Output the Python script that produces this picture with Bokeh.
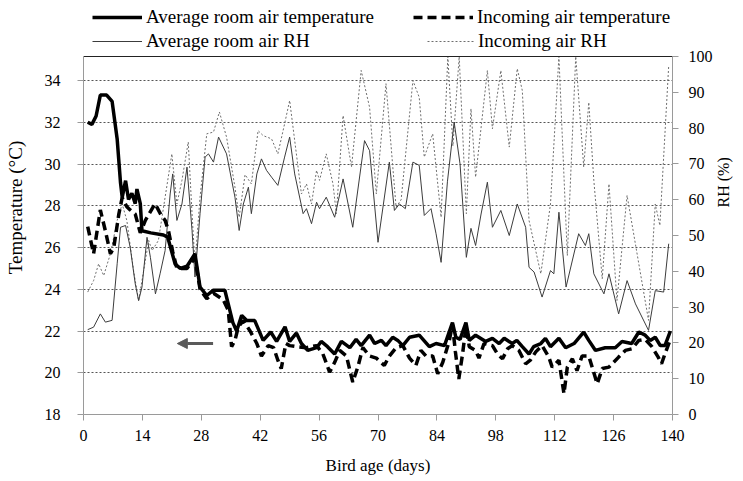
import math
from bokeh.plotting import figure
from bokeh.models import (Range1d, LinearAxis, FixedTicker, Legend, LegendItem,
                          Arrow, NormalHead, Span)
from bokeh.embed import file_html
from bokeh.resources import INLINE

FONT = "Liberation Serif"

# ---------------- data ----------------
room_t_day = [1, 2, 3, 4, 5.5, 6.8, 8, 8.8, 9.2, 10, 10.7, 11.5, 12.3, 12.7, 13.5, 13.9, 16, 19, 20,
              21.8, 23, 24.6, 26.5, 27.7, 29.3, 30.8, 33.6, 34.4, 35.5, 36.4, 37.6, 38.8, 40.7, 42.7,
              44.5, 45.9, 47.9, 49, 50.6, 51.8, 53.3, 55.4, 56.5, 58, 59.7, 61.3, 63.3, 64.8, 66, 68,
              69.2, 70.8, 71.9, 73.5, 74.7, 75.9, 77.5, 79.8, 82.2, 83.8, 85.8, 87.7, 88.5, 89.5, 90.9,
              91.7, 93.2, 95.6, 97.2, 98.8, 100, 101.9, 103, 104.3, 105.9, 107, 108.7, 109.8, 111, 113,
              114.6, 116.6, 118.9, 120.1, 121.7, 124, 126.4, 128, 130.3, 132, 133.5, 134.7, 135.9,
              137.1, 138.2, 139.5]
room_t = [32.0, 31.9, 32.3, 33.3, 33.3, 33.0, 31.2, 29.1, 28.4, 29.2, 28.3, 28.6, 28.1, 28.8, 28.1,
          26.8, 26.7, 26.6, 26.5, 25.2, 25.0, 25.1, 25.7, 24.1, 23.7, 23.95, 23.95, 23.3, 22.4, 22.0,
          22.75, 22.5, 22.5, 21.55, 21.95, 21.5, 22.2, 21.5, 21.9, 21.4, 21.07, 21.2, 21.5, 21.25,
          20.9, 21.5, 21.2, 21.6, 21.3, 21.8, 21.4, 21.55, 21.3, 21.7, 21.55, 21.3, 21.7, 21.8, 21.25,
          21.4, 21.3, 22.4, 21.7, 21.6, 22.4, 21.55, 21.8, 21.5, 21.65, 21.4, 21.65, 21.4, 21.55,
          21.25, 20.9, 21.25, 21.4, 21.65, 21.25, 21.65, 21.2, 21.4, 21.95, 21.55, 21.07, 21.2, 21.2,
          21.5, 21.4, 21.95, 21.8, 21.55, 21.7, 21.3, 21.3, 22.0]

inc_t_day = [1, 2.4, 4, 5.2, 6.4, 7.2, 8.4, 9.2, 10.3, 11.1, 12.3, 13.5, 14.7, 17, 18.6, 19.4, 20.2,
             21.2, 22.2, 24.6, 26.5, 27.7, 29.3, 31, 33.2, 34.4, 35.2, 36, 36.8, 38, 39.6, 41.2, 42.3,
             43.9, 45.2, 46.2, 47, 48.1, 49, 50.6, 53, 55.4, 56.9, 58.5, 59.7, 60.9, 62.5, 64, 65.2,
             66.4, 68, 69.6, 71.5, 72.7, 74.3, 75.9, 77.5, 79, 80.2, 81.4, 83, 84.2, 85.4, 86.9, 87.7,
             88.4, 89.2, 90.1, 90.9, 91.7, 93.2, 94, 95.2, 97.2, 98.4, 99.6, 100.8, 101.9, 103.5,
             105.1, 106.2, 107.5, 109, 110.6, 111.4, 113, 114.2, 115, 116.2, 117.3, 118.5, 120.1,
             122.1, 123.3, 124.9, 127.2, 128.8, 130.4, 132, 133.5, 135.1, 136.6, 137.4, 138.2, 139.5]
inc_t = [27.0, 25.7, 27.8, 26.8, 25.7, 26.0, 27.6, 28.4, 27.95, 27.8, 27.6, 26.7, 27.3, 28.1, 27.5,
         27.3, 26.8, 25.8, 25.0, 25.0, 25.5, 24.0, 23.55, 23.8, 23.5, 23.0, 21.25, 21.55, 22.2, 22.5,
         22.0, 21.4, 20.8, 21.3, 21.2, 20.6, 20.2, 21.4, 21.3, 21.25, 21.2, 21.3, 20.9, 20.03, 20.5,
         21.07, 20.8, 19.55, 20.27, 21.2, 20.8, 20.7, 20.35, 20.8, 21.2, 21.3, 20.7, 20.35, 21.07,
         20.8, 20.8, 19.95, 20.5, 21.5, 22.3, 21.0, 19.7, 20.9, 22.2, 21.25, 21.07, 20.7, 21.4, 21.3,
         20.9, 20.67, 21.15, 21.3, 21.07, 20.43, 20.6, 21.0, 21.3, 20.75, 20.27, 20.6, 19.0, 20.27,
         20.67, 20.1, 20.8, 20.8, 19.47, 20.2, 20.27, 20.75, 21.07, 21.15, 21.55, 21.6, 21.25, 20.75,
         20.43, 20.9, 21.6]

room_rh_day = [1, 2.4, 4, 5.2, 6.8, 8, 8.8, 10, 11.1, 12.3, 13.1, 13.9, 15.1, 15.9, 17.1, 18.2, 19.4,
               20.6, 21.2, 22.2, 23.4, 24.6, 25.8, 26.5, 27.7, 28.9, 29.7, 30.9, 32.1, 34, 36, 37, 38,
               39.2, 39.9, 41.2, 42.3, 43.5, 44.7, 46.2, 47.8, 49, 50.2, 52.2, 53, 54.2, 55.4, 56.1,
               57.7, 59.7, 61.7, 64, 66.8, 68, 70, 72.7, 73.9, 75.1, 76.5, 78.3, 79.8, 81, 82.6, 83.8,
               85, 86.5, 88.1, 89.5, 91, 92.1, 93.2, 94.5, 96, 97.2, 99.2, 101.2, 103.1, 105.1, 105.9,
               107.1, 109, 111, 111.8, 113, 114.7, 117.7, 119.3, 120.1, 121.3, 123.7, 124.9, 127.2,
               129.2, 131.2, 134.3, 135.9, 137.9, 139.1]
room_rh = [23.7, 24.4, 28.1, 25.8, 26.3, 42.1, 52.3, 52.8, 46.7, 36.5, 31.8, 35.6, 49.5, 43.9, 33.7,
           39.3, 45.8, 61.6, 67.2, 54.2, 58.8, 69.1, 51.4, 38.4, 56.1, 71.9, 72.8, 70.5, 77.5, 72.8,
           60.7, 51.4, 58.8, 63.5, 56.1, 67.2, 71.4, 68.2, 66.3, 64.0, 71.9, 77.5, 67.2, 56.1, 57.5,
           53.3, 59.3, 57.5, 60.7, 55.1, 65.8, 52.3, 76.5, 73.7, 48.1, 70.5, 57.0, 58.8, 57.5, 70.5,
           69.6, 55.6, 57.5, 50.5, 42.5, 65.0, 81.7, 70.0, 43.9, 52.0, 47.2, 56.0, 64.9, 52.3, 57.0,
           50.0, 58.8, 52.3, 41.1, 39.8, 32.8, 40.2, 39.3, 56.5, 35.6, 50.5, 47.2, 50.5, 39.3, 33.7,
           39.3, 28.1, 37.4, 30.9, 23.5, 34.6, 34.2, 47.7]

inc_rh_day = [1, 2.4, 3.6, 4.8, 6.4, 8, 9.2, 10.3, 11.9, 13.1, 14.3, 15.5, 16.3, 17.8, 19.4, 21,
              22.2, 23.4, 24.9, 25.8, 26.5, 27.7, 29.3, 30.9, 32.3, 34, 36, 37, 38.4, 39.9, 41.5,
              42.7, 44.7, 46.2, 47.8, 49, 50.2, 51.8, 53, 54.2, 55.4, 56.1, 57.7, 59.3, 60.1, 61.7,
              63.7, 66, 68, 69.6, 71.9, 74.3, 75.5, 78.3, 79.8, 81, 83, 85, 86.6, 87.8, 89.3, 91,
              92.1, 93.2, 96, 97.2, 99.2, 101.2, 103.1, 104.3, 105.9, 108.7, 111, 113, 115, 117,
              118.9, 120.1, 121.3, 123.3, 124.9, 126.8, 129.2, 134.3, 135.9, 137, 139.1]
inc_rh = [34.2, 37.4, 42.1, 38.8, 44.9, 54.2, 58.8, 54.2, 40.2, 31.8, 40.2, 48.6, 45.8, 48.6, 60.7,
          72.8, 58.8, 65.4, 76.1, 56.1, 42.1, 60.7, 78.4, 78.9, 84.5, 77.5, 63.5, 55.1, 67.0, 64.4,
          79.3, 77.9, 77.0, 72.8, 81.2, 87.7, 76.5, 61.6, 64.4, 58.8, 68.2, 65.4, 72.8, 64.4, 56.1,
          83.5, 69.1, 96.1, 85.8, 61.6, 92.4, 57.9, 60.0, 93.3, 88.6, 71.9, 78.4, 55.1, 100, 75.0,
          100, 56.1, 85.4, 66.3, 96.1, 79.8, 96.1, 74.7, 96.6, 90.5, 54.2, 39.3, 58.8, 100, 44.4,
          100, 69.1, 87.2, 65.4, 37.9, 64.4, 31.8, 61.2, 26.3, 58.8, 52.8, 97.5]

x_ticks = [0, 14, 28, 42, 56, 70, 84, 98, 112, 126, 140]
t_ticks = [18, 20, 22, 24, 26, 28, 30, 32, 34]
rh_ticks = [0, 10, 20, 30, 40, 50, 60, 70, 80, 90, 100]

series_labels = ["Average room air temperature", "Incoming air temperature",
                 "Average room air RH", "Incoming air RH"]

# ---------------- layout constants ----------------
W, H = 743, 481
FRAME_L, FRAME_R, CHART_TOP, CHART_BOTTOM = 83, 674, 56, 414   # pixel geometry
T_MIN, T_MAX = 18, 35.15          # temperature axis extent of the chart box
RH_MIN, RH_MAX = 0, 100
X_MIN, X_MAX = 0, 140
px_per_deg = (CHART_BOTTOM - CHART_TOP) / (T_MAX - T_MIN)
px_per_rh = (CHART_BOTTOM - CHART_TOP) / (RH_MAX - RH_MIN)
# frame reaches the top of the canvas so the legend can sit inside it
T_TOP = T_MIN + CHART_BOTTOM / px_per_deg
RH_TOP = RH_MIN + CHART_BOTTOM / px_per_rh

# ---------------- styles ----------------
STYLES = [
    dict(line_color="black", line_width=3.5),
    dict(line_color="black", line_width=3.5, line_dash="9 5"),
    dict(line_color="#3c3c3c", line_width=1),
    dict(line_color="#6e6e6e", line_width=1, line_dash="2 2"),
]

p = figure(width=W, height=H, output_backend="svg", toolbar_location=None,
           x_range=Range1d(X_MIN, X_MAX), y_range=Range1d(T_MIN, T_TOP),
           min_border_left=FRAME_L, min_border_right=W - FRAME_R, min_border_top=0,
           min_border_bottom=H - CHART_BOTTOM,
           background_fill_color="white", border_fill_color="white")
p.extra_y_ranges = {"rh": Range1d(RH_MIN, RH_TOP)}
p.outline_line_color = None

AX_COL = "#9a9a9a"

def style_axis(ax, title_size="16px"):
    ax.axis_line_color = AX_COL
    ax.major_tick_line_color = AX_COL
    ax.minor_tick_line_color = None
    ax.major_tick_in = 0
    ax.major_tick_out = 6
    ax.major_label_text_font = FONT
    ax.major_label_text_font_size = "16px"
    ax.major_label_text_color = "black"
    ax.axis_label_text_font = FONT
    ax.axis_label_text_font_size = title_size
    ax.axis_label_text_font_style = "normal"
    ax.axis_label_text_color = "black"

xa = p.xaxis[0]
xa.ticker = FixedTicker(ticks=x_ticks)
xa.axis_label = "Bird age (days)"
style_axis(xa, "17px")
xa.major_label_standoff = 9
xa.axis_label_standoff = 12

ya = p.yaxis[0]
ya.ticker = FixedTicker(ticks=t_ticks)
ya.bounds = (T_MIN, T_MAX)
ya.axis_label = "Temperature (°C)"
style_axis(ya, "19px")
ya.major_label_standoff = 17
ya.axis_label_standoff = 16

# right axis; its title reads bottom-to-top
ra = LinearAxis(y_range_name="rh", ticker=FixedTicker(ticks=rh_ticks), bounds=(RH_MIN, RH_MAX),
                axis_label="RH (%)")
style_axis(ra, "16px")
ra.major_label_standoff = 10
ra.axis_label_standoff = 8
try:
    ra.axis_label_orientation = math.pi / 2
except AttributeError:
    pass
p.add_layout(ra, "right")

p.xgrid.grid_line_color = None
p.ygrid.ticker = FixedTicker(ticks=t_ticks[1:])
p.ygrid.grid_line_color = "#555555"
p.ygrid.grid_line_dash = "2 2"
p.ygrid.grid_line_width = 1

# top border of the chart box
p.add_layout(Span(location=T_MAX, dimension="width", line_color="#222222", line_width=1))

r_inc_rh = p.line(inc_rh_day, inc_rh, y_range_name="rh", **STYLES[3])
r_room_rh = p.line(room_rh_day, room_rh, y_range_name="rh", **STYLES[2])
r_inc_t = p.line(inc_t_day, inc_t, **STYLES[1])
r_room_t = p.line(room_t_day, room_t, **STYLES[0])
renderers = [r_room_t, r_inc_t, r_room_rh, r_inc_rh]

# arrow pointing to the left (temperature) axis
ARROW_FROM, ARROW_TO, ARROW_LEVEL = 30.8, 22.3, 21.4
p.add_layout(Arrow(end=NormalHead(size=10, fill_color="#5a5a5a", line_color="#5a5a5a"),
                   x_start=ARROW_FROM, y_start=ARROW_LEVEL, x_end=ARROW_TO, y_end=ARROW_LEVEL,
                   line_color="#5a5a5a", line_width=3))

# ---------------- legend entries (pixels from the frame's bottom-left) ----------------
LEG_POS = [(9, 386, 50), (330, 386, 60), (9, 362, 50), (344, 362, 47)]
for label, r, (lx, ly, gw) in zip(series_labels, renderers, LEG_POS):
    leg = Legend(items=[LegendItem(label=label, renderers=[r])], location=(lx, ly),
                 padding=0, margin=0, spacing=0, border_line_color=None,
                 background_fill_alpha=0, glyph_width=gw, glyph_height=20,
                 label_height=20, label_standoff=4,
                 label_text_font=FONT, label_text_font_size="19px", label_text_color="black")
    p.add_layout(leg)

open("out.html", "w").write(file_html(p, INLINE))
